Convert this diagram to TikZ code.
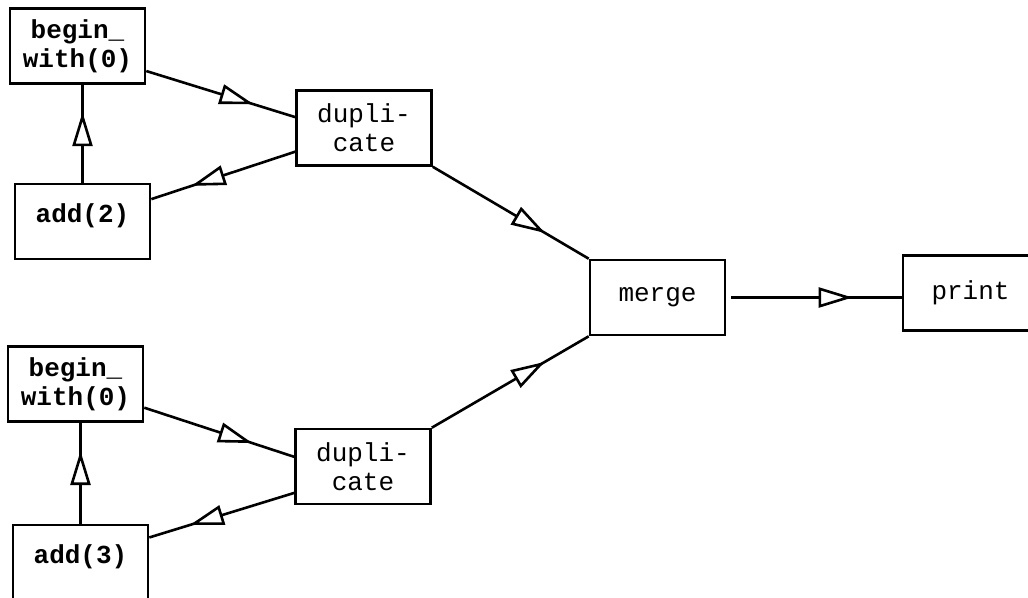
\documentclass[tikz,border=0pt]{standalone}
\usepackage{fontspec}
\setmonofont{Liberation Mono}
\usetikzlibrary{arrows.meta, decorations.markings}

\begin{document}
\begin{tikzpicture}[x=1pt, y=-1pt,
    opbox/.style={draw, line width=2.6pt, minimum width=135pt, minimum height=75pt,
        inner sep=0pt, align=center, font=\ttfamily\fontsize{26}{29}\selectfont},
    heavy/.style={font=\ttfamily\bfseries\fontsize{26}{29}\selectfont},
    flow/.style={line width=2.6pt, postaction={decorate},
        decoration={markings, mark=at position 0.72 with
            {\arrow{Triangle[length=34pt, width=20pt, fill=white]}}}}]
    \useasboundingbox (0,0) rectangle (1028,597);

    % upper loop
    \node[opbox, heavy] (begin1) at (77.5,46) {begin\_\\with(0)};
    \node[opbox, heavy, text depth=16pt] (add2) at (82.5,221.5) {add(2)};
    \node[opbox] (dup1) at (364,128) {dupli-\\cate};

    % lower loop
    \node[opbox, heavy] (begin2) at (75.5,384) {begin\_\\with(0)};
    \node[opbox, heavy, text depth=16pt] (add3) at (80.5,562.5) {add(3)};
    \node[opbox] (dup2) at (363,466.5) {dupli-\\cate};

    % output side
    \node[opbox] (merge) at (657.5,297.5) {merge};
    \node[opbox] (print) at (970.5,293) {print};

    \draw[flow] (add2.north) -- (add2.north |- begin1.south);
    \draw[flow] (begin1.-20) -- (dup1.171);
    \draw[flow] (dup1.199) -- (add2.18);
    \draw[flow] (dup1.south east) -- (merge.north west);

    \draw[flow] (add3.north) -- (add3.north |- begin2.south);
    \draw[flow] (begin2.-19) -- (dup2.172);
    \draw[flow] (dup2.201) -- (add3.20);
    \draw[flow] (dup2.north east) -- (merge.south west);

    \draw[flow, shorten <=5pt] (merge.east) -- (print.west |- merge.east);
\end{tikzpicture}
\end{document}
